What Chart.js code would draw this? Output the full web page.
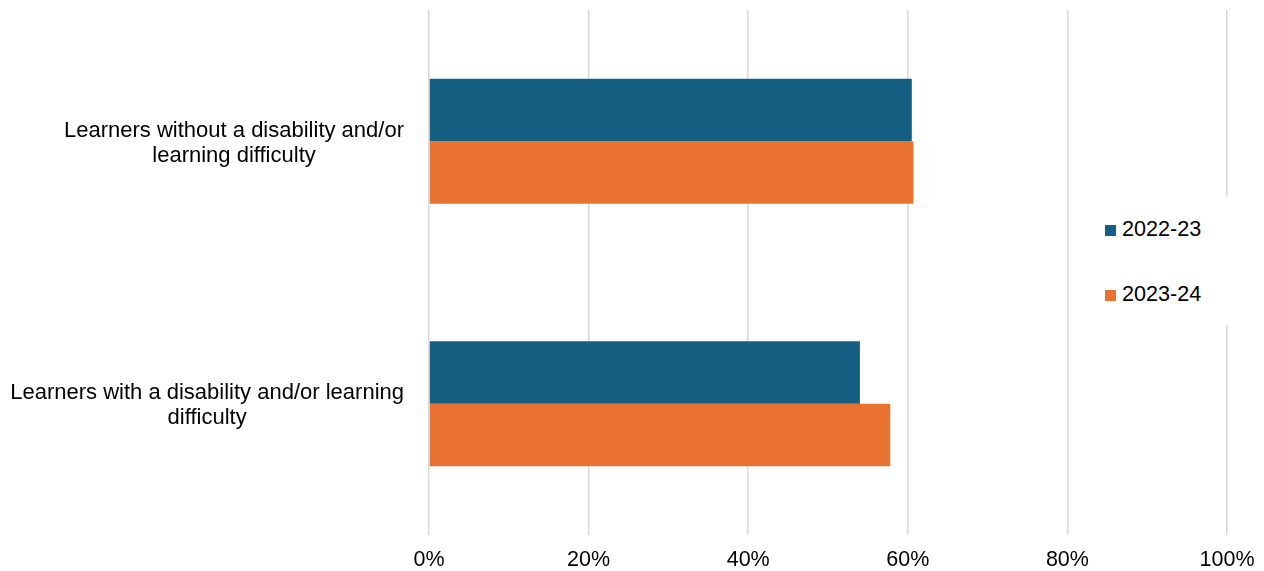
<!DOCTYPE html>
<html>
<head>
<meta charset="utf-8">
<script src="https://cdn.jsdelivr.net/npm/chart.js@4"></script>
<style>
  html, body { margin: 0; padding: 0; background: #fff; }
  #wrap { position: relative; width: 1264px; height: 571px; }
  #legend {
    position: absolute; left: 1098px; top: 197px; width: 140px; height: 128px;
    background: #fff; font-family: "Liberation Sans", Arial, sans-serif; font-size: 21.6px; color: #000;
  }
  .item { position: absolute; left: 7px; height: 26px; line-height: 26px; white-space: nowrap; }
  .item span { display: inline-block; width: 11px; height: 11px; margin-right: 6px; vertical-align: 0px; }
</style>
</head>
<body>
<div id="wrap">
  <canvas id="myChart" width="1264" height="571"></canvas>
  <div id="legend"></div>
</div>
<script>
// Data
const categories = [
  ['Learners without a disability and/or', 'learning difficulty'],
  ['Learners with a disability and/or learning', 'difficulty']
];
const seriesNames = ['2022-23', '2023-24'];
const values2022 = [60.5, 54.0];
const values2023 = [60.7, 57.8];
const xTicks = [0, 20, 40, 60, 80, 100];
const colours = ['#156082', '#E97132'];

const fontFamily = '"Liberation Sans", Arial, sans-serif';

// Category labels: each block right aligned, lines centred inside it
const categoryLabels = {
  id: 'categoryLabels',
  afterDraw(chart) {
    const ctx = chart.ctx;
    const scale = chart.scales.y;
    ctx.save();
    ctx.font = '22px ' + fontFamily;
    ctx.fillStyle = '#000';
    ctx.textAlign = 'center';
    ctx.textBaseline = 'middle';
    categories.forEach((lines, i) => {
      const y = scale.getPixelForTick(i);
      const widest = Math.max(...lines.map(l => ctx.measureText(l).width));
      const cx = 404 - widest / 2;
      lines.forEach((line, j) => {
        ctx.fillText(line, cx, y + (j - (lines.length - 1) / 2) * 25 + 2);
      });
    });
    ctx.restore();
  }
};

const canvas = document.getElementById('myChart');

const chartData = {
  labels: categories,
  datasets: [
    {
      label: seriesNames[0],
      data: values2022,
      backgroundColor: colours[0],
      categoryPercentage: 0.476,
      barPercentage: 1
    },
    {
      label: seriesNames[1],
      data: values2023,
      backgroundColor: colours[1],
      categoryPercentage: 0.476,
      barPercentage: 1
    }
  ]
};

const chartOptions = {
  indexAxis: 'y',
  responsive: false,
  animation: false,
  layout: { padding: { top: 10, right: 37, left: 0, bottom: 0 } },
  plugins: {
    legend: { display: false },
    tooltip: { enabled: false }
  },
  scales: {
    x: {
      min: 0,
      max: 100,
      afterBuildTicks: (scale) => { scale.ticks = xTicks.map(v => ({ value: v })); },
      afterFit: (scale) => {
        scale.height = 36;
        scale.paddingRight = 0;
        scale.paddingLeft = 0;
      },
      ticks: {
        callback: (v) => v + '%',
        color: '#000',
        padding: 12,
        maxRotation: 0,
        font: { family: fontFamily, size: 21.5 }
      },
      grid: { color: '#d9d9d9', lineWidth: 1.5, drawTicks: false },
      border: { display: false }
    },
    y: {
      ticks: { display: false },
      grid: { display: false },
      border: { display: false },
      afterFit: (scale) => { scale.width = 429; }
    }
  }
};

new Chart(canvas, {
  type: 'bar',
  data: chartData,
  options: chartOptions,
  plugins: [categoryLabels]
});

// Legend box over the plot
const legend = document.getElementById('legend');
seriesNames.forEach((name, i) => {
  const item = document.createElement('div');
  item.className = 'item';
  item.style.top = (19 + i * 65) + 'px';
  item.innerHTML = '<span style="background:' + colours[i] + '"></span>' + name;
  legend.appendChild(item);
});
</script>
</body>
</html>
